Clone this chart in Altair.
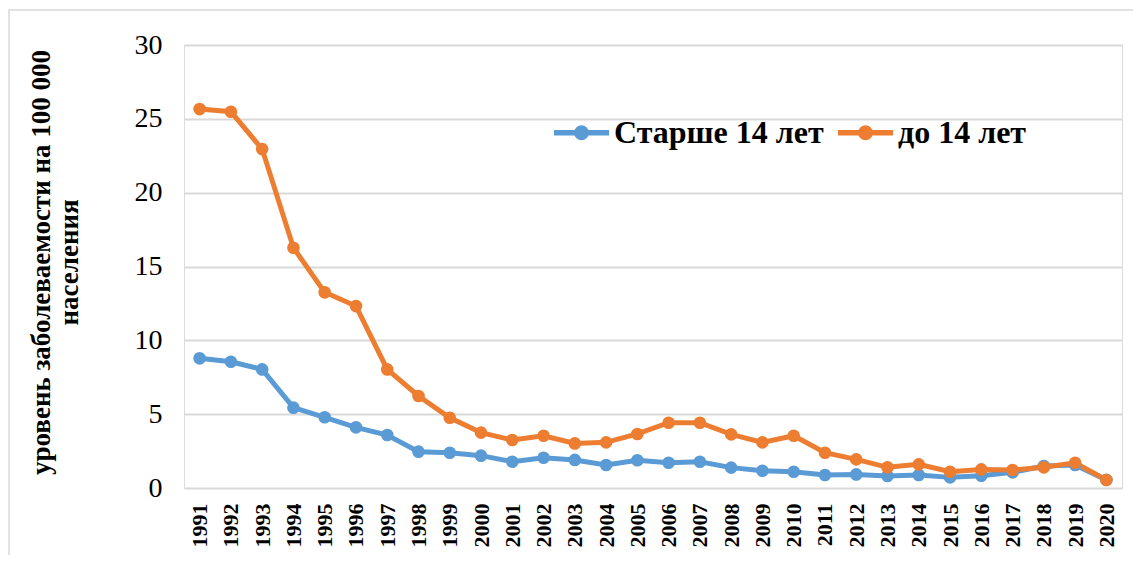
import altair as alt
import pandas as pd

years = [str(y) for y in range(1991, 2021)]
older = [8.78, 8.55, 8.03, 5.44, 4.79, 4.11, 3.59, 2.46, 2.39, 2.19,
         1.78, 2.05, 1.90, 1.56, 1.88, 1.71, 1.78, 1.38, 1.17, 1.10,
         0.88, 0.92, 0.81, 0.88, 0.72, 0.83, 1.06, 1.49, 1.56, 0.55]
younger = [25.66, 25.48, 22.95, 16.27, 13.25, 12.32, 8.03, 6.23, 4.76, 3.75,
           3.25, 3.54, 3.02, 3.09, 3.66, 4.42, 4.42, 3.63, 3.09, 3.54,
           2.39, 1.94, 1.40, 1.60, 1.10, 1.26, 1.22, 1.40, 1.71, 0.54]
series_names = ["Старше 14 лет", "до 14 лет"]
colors = ["#5B9BD5", "#ED7D31"]

rows = []
for name, vals in zip(series_names, [older, younger]):
    for y, v in zip(years, vals):
        rows.append({"year": y, "value": v, "series": name})
df = pd.DataFrame(rows)

FONT = "Liberation Serif"

sym_path = "M-0.17,0 A0.17,0.17 0 1,0 0.17,0 A0.17,0.17 0 1,0 -0.17,0 Z M-1,0 H1"

x_enc = alt.X("year:N", sort=years, title=None,
              scale=alt.Scale(paddingInner=0, paddingOuter=0.5),
              axis=alt.Axis(labelAngle=-90, labelFont=FONT, labelFontSize=22,
                            labelFontWeight="bold", labelColor="#000000",
                            labelPadding=15, domain=False, ticks=False, grid=False))
y_enc = alt.Y("value:Q", title=["уровень заболеваемости на 100 000", "населения"],
              scale=alt.Scale(domain=[0, 30], nice=False, zero=True),
              axis=alt.Axis(values=[0, 5, 10, 15, 20, 25, 30], labelFont=FONT,
                            labelFontSize=28, labelColor="#000000", labelPadding=22,
                            domain=False, ticks=False, grid=True, gridColor="#d9d9d9",
                            gridWidth=2, titleFont=FONT, titleFontSize=27,
                            titleFontWeight="bold", titleColor="#000000",
                            titleAngle=-90, titleAlign="center", titleBaseline="top",
                            titleX=-156, titleY=217, titleLineHeight=28))
color_enc = alt.Color("series:N", sort=series_names,
                      scale=alt.Scale(domain=series_names, range=colors),
                      legend=alt.Legend(title=None, orient="none", direction="horizontal",
                                        legendX=367, legendY=57,
                                        symbolType=sym_path, symbolSize=3025,
                                        symbolStrokeWidth=5.5, labelFont=FONT,
                                        labelFontSize=32, labelFontWeight="bold",
                                        labelColor="#000000", labelOffset=2,
                                        columnPadding=3, labelLimit=400))

frame = alt.Chart(pd.DataFrame({"a": [0]})).mark_rect(
    fill=None, stroke="#d9d9d9", strokeWidth=1.5
).encode(x=alt.value(-175), x2=alt.value(3000), y=alt.value(-35), y2=alt.value(3000))

lines = alt.Chart(df).mark_line(strokeWidth=5).encode(x=x_enc, y=y_enc, color=color_enc)
points = alt.Chart(df).mark_point(filled=True, size=160, opacity=1).encode(
    x=x_enc, y=y_enc, fill=alt.Color("series:N", sort=series_names,
                                     scale=alt.Scale(domain=series_names, range=colors),
                                     legend=None))

chart = alt.layer(frame, lines, points).properties(
    width=938, height=443,
    autosize=alt.AutoSizeParams(type="none"),
    padding={"left": 176, "top": 37, "right": 11, "bottom": 67},
).configure_view(stroke=None).configure(background="#ffffff")

chart.save("out.html", embed_options={"renderer": "svg", "actions": False})
